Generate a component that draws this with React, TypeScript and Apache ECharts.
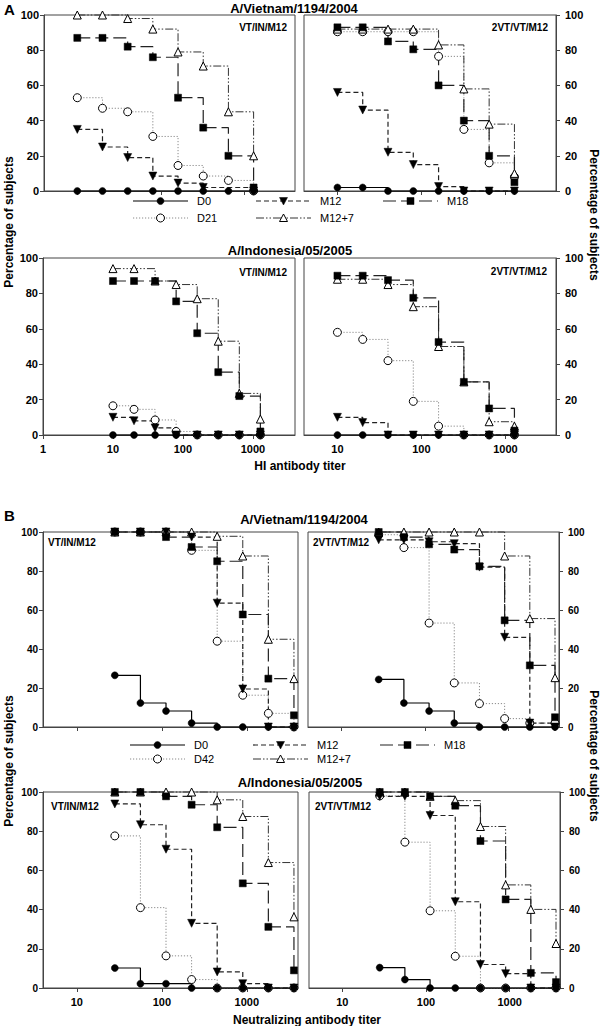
import React, { useEffect, useRef } from "react";
import * as echarts from "echarts";

// ---------- data ----------
const HI_TITERS = [10, 20, 40, 80, 160, 320, 640, 1280];
const NT_TITERS = [28, 56, 112, 224, 448, 896, 1792, 3584];
const Y_TICKS = [0, 20, 40, 60, 80, 100];
const HI_TICK_LABELS = [1, 10, 100, 1000];
const NT_TICK_LABELS = [10, 100, 1000];
const A_LEGEND_ROWS = [["D0", "M12", "M18"], ["D21", "M12+7"]];
const B_LEGEND_ROWS = [["D0", "M12", "M18"], ["D42", "M12+7"]];

// A – HI, A/Vietnam/1194/2004, VT/IN/M12
const A_VN1_D0 = [0, 0, 0, 0, 0, 0, 0, 0];
const A_VN1_D21 = [53, 47, 45, 31, 14.5, 8.5, 6, 0];
const A_VN1_M12 = [35, 25, 19, 8.5, 4.5, 2, null, 0];
const A_VN1_M18 = [87, 87, 82, 76, 53, 36, 20, 2];
const A_VN1_M127 = [100, 100, 98, 92, 79, 71, 45, 20];
// A – HI, A/Vietnam/1194/2004, 2VT/VT/M12
const A_VN2_D0 = [2, 2, 0, 0, 0, 0, 0, 0];
const A_VN2_D21 = [90.5, 90.5, 90.5, 90.5, 76.5, 35, 16, 8];
const A_VN2_M12 = [56, 46, 22, 15, 2.5, 0, 0, 0];
const A_VN2_M18 = [93, 93, 85, 80.5, 60, 40, 20, 5];
const A_VN2_M127 = [92, 92, 92, 92, 83, 58, 38, 10];
// A – HI, A/Indonesia/05/2005, VT/IN/M12
const A_IN1_D0 = [0, 0, 0, 0, 0, 0, 0, 0];
const A_IN1_D21 = [16.5, 14.5, 8.5, 2, 0, 0, 0, 0];
const A_IN1_M12 = [10, 8, 4, 0, 0, 0, 0, 0];
const A_IN1_M18 = [87, 87, 87, 75.5, 57.5, 35.5, 22, 2];
const A_IN1_M127 = [94, 94, 87, 85, 77, 53, 23.5, 9];
// A – HI, A/Indonesia/05/2005, 2VT/VT/M12
const A_IN2_D0 = [0, 0, 0, 0, 0, 0, 0, 0];
const A_IN2_D21 = [58, 54, 42, 19, 5, 0, 0, 0];
const A_IN2_M12 = [10, 7, 0, 0, 0, 0, 0, 0];
const A_IN2_M18 = [90, 90, 87.5, 77.5, 52.5, 30, 15, 2.5];
const A_IN2_M127 = [88, 88, 85, 72.5, 50, 30, 7.5, 5];
// B – Neutralizing, A/Vietnam/1194/2004, VT/IN/M12
const B_VN1_D0 = [26.5, 12.3, 8.2, 2, 0, 0, 0, 0];
const B_VN1_D42 = [100, 100, 100, 90.6, 44, 16.3, 7, 0];
const B_VN1_M12 = [100, 100, 100, 97.4, 63.5, 19.5, 0, 0];
const B_VN1_M18 = [100, 100, 97.4, 92.3, 85, 57.7, 24.8, 6];
const B_VN1_M127 = [100, 100, 100, 100, 97.8, 87.7, 45, 24.8];
// B – Neutralizing, A/Vietnam/1194/2004, 2VT/VT/M12
const B_VN2_D0 = [24.4, 12.3, 8.2, 2, 0, 0, 0, 0];
const B_VN2_D42 = [98.6, 92, 53.3, 22.6, 12, 4.3, 2, 2];
const B_VN2_M12 = [96, 96, 95, 94, 82, 46, 2, 0];
const B_VN2_M18 = [100, 97.4, 93.7, 91, 82.4, 54.7, 31.6, 5];
const B_VN2_M127 = [100, 100, 100, 100, 100, 87.7, 55.6, 25.3];
// B – Neutralizing, A/Indonesia/05/2005, VT/IN/M12
const B_IN1_D0 = [10.2, 2.2, 2.2, 0, 0, 0, 0, 0];
const B_IN1_D42 = [77.6, 41, 16.4, 4.3, 0, 0, 0, 0];
const B_IN1_M12 = [93.9, 83.3, 70.8, 33, 8.2, 2.2, 0, 0];
const B_IN1_M18 = [100, 100, 97.8, 93.5, 82, 53.4, 31.2, 9];
const B_IN1_M127 = [100, 100, 100, 100, 96, 87.5, 64, 36.3];
// B – Neutralizing, A/Indonesia/05/2005, 2VT/VT/M12
const B_IN2_D0 = [10.4, 4.3, 0, 0, 0, 0, 0, 0];
const B_IN2_D42 = [98, 74.4, 39.4, 16.2, 0, 0, 0, 0];
const B_IN2_M12 = [97.8, 97.8, 88, 44, 12, 7.3, 0, 0];
const B_IN2_M18 = [100, 100, 97.8, 93, 75, 45.2, 7.7, 3];
const B_IN2_M127 = [100, 100, 97.8, 95.6, 82.4, 52.6, 40.1, 22.7];

// ---------- styles ----------
const FONT = '"Liberation Sans", Arial, Helvetica, sans-serif';
const AXIS_COLOR = "#444";

const STYLE: Record<string, any> = {
  D0: {
    symbol: "circle", symbolSize: 7, symbolRotate: 0, open: false,
    itemStyle: { color: "#000", borderColor: "#000", borderWidth: 0.5 },
    lineStyle: { color: "#000", width: 1.2, type: "solid" },
  },
  D21: {
    symbol: "circle", symbolSize: 8, symbolRotate: 0, open: true,
    itemStyle: { color: "#fff", borderColor: "#000", borderWidth: 1 },
    lineStyle: { color: "#8a8a8a", width: 1, type: [1.2, 1.8] },
  },
  M12: {
    symbol: "triangle", symbolSize: 8, symbolRotate: 180, open: false,
    itemStyle: { color: "#000", borderColor: "#000", borderWidth: 0.5 },
    lineStyle: { color: "#222", width: 1.2, type: [5, 3] },
  },
  M18: {
    symbol: "rect", symbolSize: 7, symbolRotate: 0, open: false,
    itemStyle: { color: "#000", borderColor: "#000", borderWidth: 0.5 },
    lineStyle: { color: "#222", width: 1.2, type: [13, 5] },
  },
  "M12+7": {
    symbol: "triangle", symbolSize: 8, symbolRotate: 0, open: true,
    itemStyle: { color: "#fff", borderColor: "#000", borderWidth: 1 },
    lineStyle: { color: "#333", width: 1, type: [8, 2, 1.5, 2, 1.5, 2] },
  },
};
STYLE.D42 = STYLE.D21;

type Panel = {
  grid: { left: number; top: number; width: number; height: number };
  titers: number[];
  xMin: number;
  xLabels: number[] | null;
  yRight: boolean;
  yFont: number;
  series: [string, (number | null)[]][];
};

const PANELS: Panel[] = [
  {
    grid: { left: 44, top: 15, width: 251, height: 176 }, titers: HI_TITERS, xMin: 4, xLabels: null, yRight: false, yFont: 11,
    series: [["D21", A_VN1_D21], ["M12+7", A_VN1_M127], ["M12", A_VN1_M12], ["M18", A_VN1_M18], ["D0", A_VN1_D0]],
  },
  {
    grid: { left: 304, top: 15, width: 252, height: 176 }, titers: HI_TITERS, xMin: 4, xLabels: null, yRight: true, yFont: 11,
    series: [["D21", A_VN2_D21], ["M12+7", A_VN2_M127], ["M12", A_VN2_M12], ["M18", A_VN2_M18], ["D0", A_VN2_D0]],
  },
  {
    grid: { left: 43, top: 258, width: 252, height: 177 }, titers: HI_TITERS, xMin: 1, xLabels: HI_TICK_LABELS, yRight: false, yFont: 11,
    series: [["D21", A_IN1_D21], ["M12+7", A_IN1_M127], ["M12", A_IN1_M12], ["M18", A_IN1_M18], ["D0", A_IN1_D0]],
  },
  {
    grid: { left: 304, top: 258, width: 252, height: 177 }, titers: HI_TITERS, xMin: 4, xLabels: NT_TICK_LABELS, yRight: true, yFont: 11,
    series: [["D21", A_IN2_D21], ["M12+7", A_IN2_M127], ["M12", A_IN2_M12], ["M18", A_IN2_M18], ["D0", A_IN2_D0]],
  },
  {
    grid: { left: 43, top: 532, width: 255, height: 195 }, titers: NT_TITERS, xMin: 4, xLabels: null, yRight: false, yFont: 10,
    series: [["D42", B_VN1_D42], ["M12+7", B_VN1_M127], ["M12", B_VN1_M12], ["M18", B_VN1_M18], ["D0", B_VN1_D0]],
  },
  {
    grid: { left: 308, top: 532, width: 251, height: 195 }, titers: NT_TITERS, xMin: 4, xLabels: null, yRight: true, yFont: 10,
    series: [["D42", B_VN2_D42], ["M12+7", B_VN2_M127], ["M12", B_VN2_M12], ["M18", B_VN2_M18], ["D0", B_VN2_D0]],
  },
  {
    grid: { left: 43, top: 792, width: 255, height: 196 }, titers: NT_TITERS, xMin: 4, xLabels: NT_TICK_LABELS, yRight: false, yFont: 10,
    series: [["D42", B_IN1_D42], ["M12+7", B_IN1_M127], ["M12", B_IN1_M12], ["M18", B_IN1_M18], ["D0", B_IN1_D0]],
  },
  {
    grid: { left: 309, top: 792, width: 251, height: 196 }, titers: NT_TITERS, xMin: 4, xLabels: NT_TICK_LABELS, yRight: true, yFont: 10,
    series: [["D42", B_IN2_D42], ["M12+7", B_IN2_M127], ["M12", B_IN2_M12], ["M18", B_IN2_M18], ["D0", B_IN2_D0]],
  },
];

function pairs(titers: number[], vals: (number | null)[]) {
  const out: number[][] = [];
  titers.forEach((t, i) => {
    const v = vals[i];
    if (v !== null && v !== undefined) out.push([t, v]);
  });
  return out;
}

function txt(text: string, x: number, y: number, size: number, align = "center", rotation = 0, weight = "bold") {
  return {
    type: "text",
    x,
    y,
    rotation,
    silent: true,
    style: {
      text,
      fill: "#000",
      fontSize: size,
      fontWeight: weight,
      fontFamily: FONT,
      align,
      verticalAlign: "middle",
      textAlign: align,
      textVerticalAlign: "middle",
    },
  };
}

function marker(name: string, cx: number, cy: number) {
  const st = STYLE[name];
  const r = st.symbolSize / 2;
  const fillStyle = st.open
    ? { fill: "#fff", stroke: "#000", lineWidth: 1 }
    : { fill: "#000", stroke: "#000", lineWidth: 0.5 };
  if (st.symbol === "circle") return { type: "circle", silent: true, shape: { cx, cy, r }, style: fillStyle };
  if (st.symbol === "rect") return { type: "rect", silent: true, shape: { x: cx - r, y: cy - r, width: 2 * r, height: 2 * r }, style: fillStyle };
  const pts = st.symbolRotate === 180
    ? [[cx - r, cy - r + 0.5], [cx + r, cy - r + 0.5], [cx, cy + r]]
    : [[cx, cy - r], [cx + r, cy + r - 0.5], [cx - r, cy + r - 0.5]];
  return { type: "polygon", silent: true, shape: { points: pts }, style: fillStyle };
}

function legendItem(name: string, x: number, cy: number) {
  const st = STYLE[name];
  const w = 55;
  const dash = Array.isArray(st.lineStyle.type) ? st.lineStyle.type : null;
  return [
    {
      type: "line",
      silent: true,
      shape: { x1: x, y1: cy, x2: x + w, y2: cy },
      style: { stroke: st.lineStyle.color, lineWidth: st.lineStyle.width, lineDash: dash },
    },
    marker(name, x + w / 2, cy),
    txt(name, x + w + 9, cy, 11, "left", 0, "normal"),
  ];
}

function buildLegend(rows: string[][], cols: number[], rowY: number[]) {
  const out: any[] = [];
  rows.forEach((row, ri) => row.forEach((name, ci) => out.push(...legendItem(name, cols[ci], rowY[ri]))));
  return out;
}

function buildOption() {
  const grid: any[] = [];
  const xAxis: any[] = [];
  const yAxis: any[] = [];
  const series: any[] = [];

  PANELS.forEach((p, i) => {
    grid.push({ ...p.grid, show: true, borderColor: AXIS_COLOR, borderWidth: 1, backgroundColor: "transparent" });
    const ticks = p.xMin === 1 ? HI_TICK_LABELS : NT_TICK_LABELS;
    xAxis.push({
      type: "log",
      logBase: 10,
      gridIndex: i,
      min: p.xMin,
      max: 4000,
      axisLine: { show: true, lineStyle: { color: AXIS_COLOR, width: 1 } },
      axisTick: { show: true, inside: false, length: 4, lineStyle: { color: AXIS_COLOR }, customValues: ticks },
      axisLabel: {
        show: !!p.xLabels,
        customValues: p.xLabels || ticks,
        showMinLabel: true,
        showMaxLabel: true,
        hideOverlap: false,
        formatter: (v: number) => String(Math.round(v)),
        fontSize: 11,
        fontWeight: "bold",
        fontFamily: FONT,
        color: "#000",
        margin: 8,
      },
      splitLine: { show: false },
      minorTick: { show: false },
    });
    yAxis.push({
      type: "value",
      gridIndex: i,
      min: 0,
      max: 100,
      interval: 20,
      position: p.yRight ? "right" : "left",
      axisLine: { show: true, lineStyle: { color: AXIS_COLOR, width: 1 } },
      axisTick: { show: true, inside: false, length: 4, lineStyle: { color: AXIS_COLOR } },
      axisLabel: {
        show: true,
        fontSize: p.yFont,
        fontWeight: "bold",
        fontFamily: FONT,
        color: "#000",
        margin: p.yRight ? 9 : 5,
        customValues: Y_TICKS,
      },
      splitLine: { show: false },
    });
    p.series.forEach(([name, vals]) => {
      const st = STYLE[name];
      series.push({
        type: "line",
        name,
        xAxisIndex: i,
        yAxisIndex: i,
        data: pairs(p.titers, vals),
        step: "end",
        symbol: st.symbol,
        symbolSize: st.symbolSize,
        symbolRotate: st.symbolRotate,
        showAllSymbol: true,
        itemStyle: st.itemStyle,
        lineStyle: st.lineStyle,
        clip: false,
        silent: true,
        emphasis: { disabled: true },
      });
    });
  });

  const graphic = [
    txt("A", 4, 9, 15, "left"),
    txt("B", 4, 515, 15, "left"),
    txt("A/Vietnam/1194/2004", 294, 8, 13),
    txt("A/Indonesia/05/2005", 290, 250, 13),
    txt("A/Vietnam/1194/2004", 304, 519, 13),
    txt("A/Indonesia/05/2005", 300, 782, 13),
    txt("VT/IN/M12", 287, 27, 10, "right"),
    txt("2VT/VT/M12", 548, 27, 10, "right"),
    txt("VT/IN/M12", 287, 272, 10, "right"),
    txt("2VT/VT/M12", 547, 271, 10, "right"),
    txt("VT/IN/M12", 48, 542, 10, "left"),
    txt("2VT/VT/M12", 313, 542, 10, "left"),
    txt("VT/IN/M12", 51, 806, 10, "left"),
    txt("2VT/VT/M12", 315, 806, 10, "left"),
    txt("HI antibody titer", 300, 466, 12),
    txt("Neutralizing antibody titer", 307, 1020, 12),
    txt("Percentage of subjects", 9, 222, 12, "center", Math.PI / 2),
    txt("Percentage of subjects", 594, 215, 12, "center", -Math.PI / 2),
    txt("Percentage of subjects", 9, 761, 12, "center", Math.PI / 2),
    txt("Percentage of subjects", 594, 756, 12, "center", -Math.PI / 2),
    ...buildLegend(A_LEGEND_ROWS, [133, 256, 383], [201, 218]),
    ...buildLegend(B_LEGEND_ROWS, [130, 253, 380], [745, 759]),
  ];

  return {
    animation: false,
    backgroundColor: "#fff",
    textStyle: { fontFamily: FONT },
    grid,
    xAxis,
    yAxis,
    series,
    graphic,
  };
}

export default function App() {
  const ref = useRef<HTMLDivElement>(null);
  useEffect(() => {
    if (!ref.current) return;
    const chart = echarts.init(ref.current, null, { renderer: "svg" });
    chart.setOption(buildOption() as any);
    return () => chart.dispose();
  }, []);
  return <div ref={ref} style={{ position: "absolute", left: 0, top: 0, width: 600, height: 1026 }} />;
}
